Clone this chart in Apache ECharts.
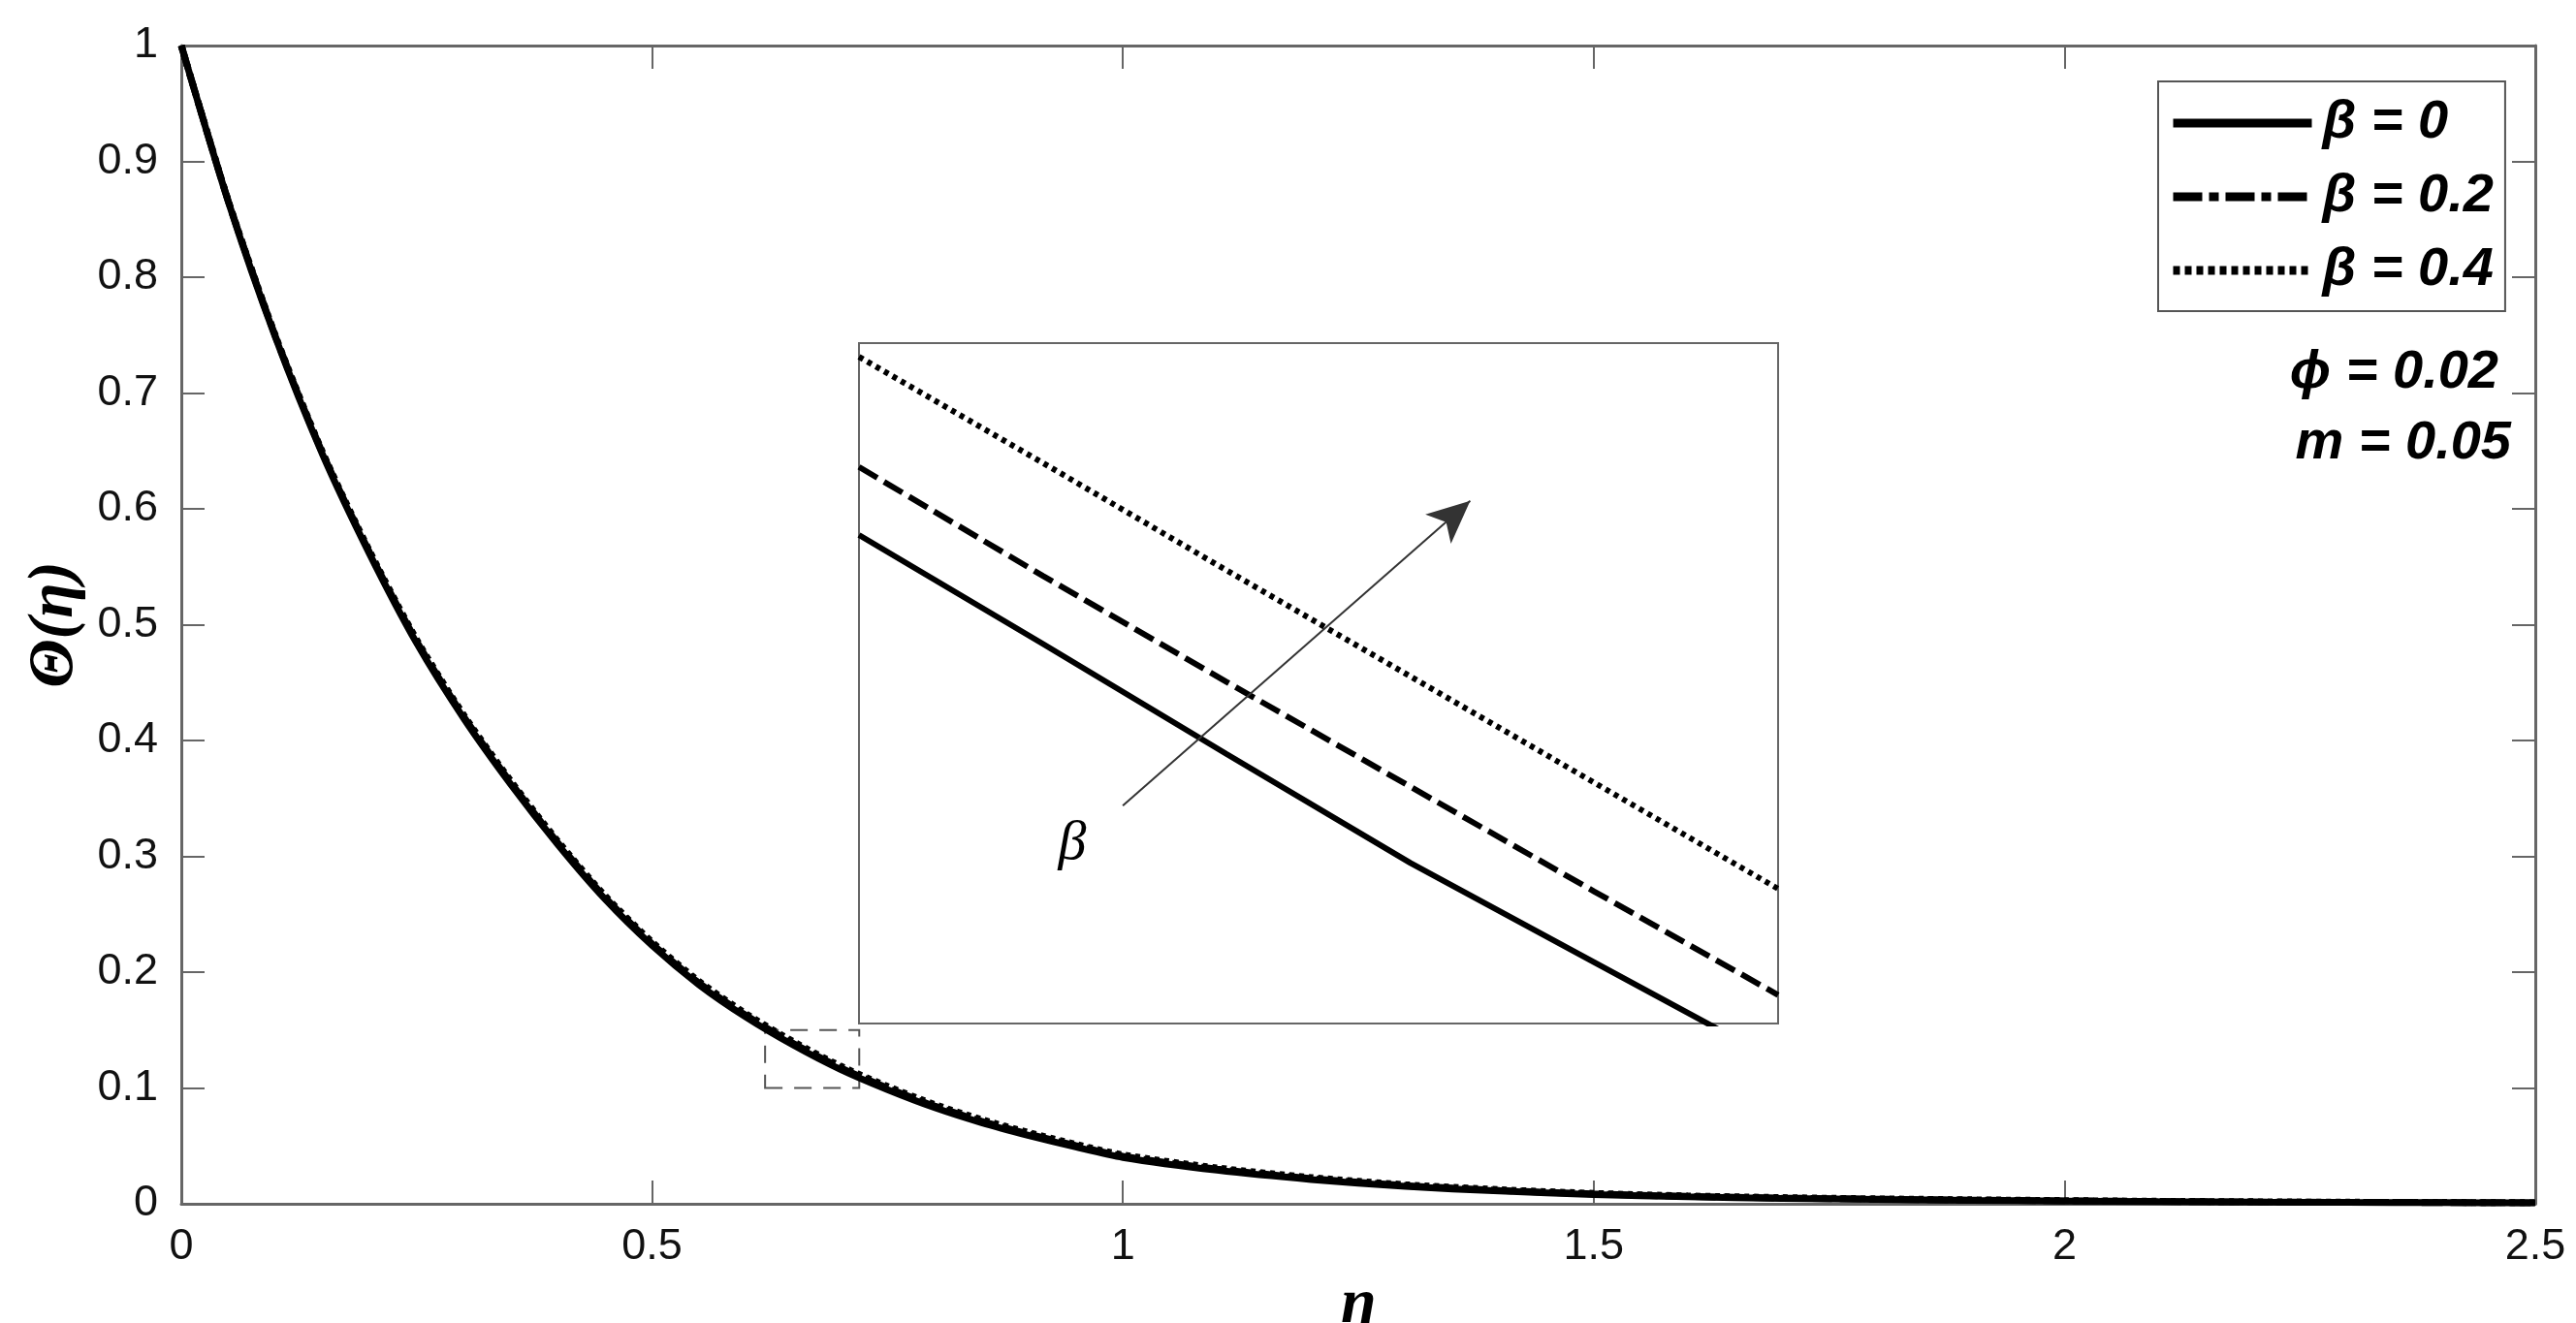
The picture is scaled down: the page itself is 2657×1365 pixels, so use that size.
<!DOCTYPE html>
<html>
<head>
<meta charset="utf-8">
<script src="https://cdn.jsdelivr.net/npm/echarts@6/dist/echarts.min.js"></script>
<style>
html, body { margin: 0; padding: 0; background: #fff; }
#container { width: 2657px; height: 1365px; }
</style>
</head>
<body>
<div id="container"></div>
<script>
// eta grid of the main plot
let eta = [0, 0.05, 0.1, 0.15, 0.2, 0.25, 0.3, 0.35, 0.4, 0.45, 0.5, 0.55, 0.6, 0.65, 0.7, 0.75, 0.8, 0.85, 0.9, 0.95, 1.0,
    1.1, 1.2, 1.3, 1.4, 1.5, 1.6, 1.7, 1.8, 1.9, 2.0, 2.1, 2.2, 2.3, 2.4, 2.5]
// theta(eta) for beta = 0, 0.2, 0.4
let theta0 = [1, 0.865, 0.748, 0.647, 0.561, 0.484, 0.419, 0.362, 0.310, 0.263, 0.223, 0.189, 0.161, 0.137, 0.116, 0.0985, 0.083, 0.070, 0.059, 0.049, 0.040,
    0.029, 0.021, 0.015, 0.011, 0.008, 0.006, 0.0047, 0.0037, 0.003, 0.0024, 0.0019, 0.0015, 0.0012, 0.001, 0.0008]
let theta2 = [1, 0.8654, 0.7488, 0.648, 0.5622, 0.4855, 0.4205, 0.3635, 0.3115, 0.2645, 0.2245, 0.1905, 0.1625, 0.1385, 0.1175, 0.0999, 0.0844, 0.0713, 0.0602, 0.0502, 0.0411,
    0.030, 0.0218, 0.0157, 0.0116, 0.0085, 0.0064, 0.005, 0.004, 0.0032, 0.0026, 0.002, 0.0016, 0.0013, 0.0011, 0.0009]
let theta4 = [1, 0.8658, 0.7495, 0.649, 0.5635, 0.487, 0.422, 0.365, 0.313, 0.266, 0.226, 0.192, 0.164, 0.140, 0.119, 0.1014, 0.0858, 0.0727, 0.0615, 0.0514, 0.0422,
    0.031, 0.0227, 0.0165, 0.0122, 0.009, 0.0068, 0.0054, 0.0043, 0.0035, 0.0028, 0.0022, 0.0018, 0.0014, 0.0012, 0.001]

// zoomed inset (eta 0.62 - 0.72, theta 0.10 - 0.15)
let insetRange = { x: [0.62, 0.72], y: [0.10, 0.15] }
let insetEta = [0.62, 0.64, 0.66, 0.68, 0.70, 0.72]
let inset0 = [0.1359, 0.1279, 0.1198, 0.1118, 0.1045, 0.0972]
let inset2 = [0.1409, 0.1329, 0.1251, 0.1174, 0.1097, 0.1021]
let inset4 = [0.1490, 0.1412, 0.1333, 0.1255, 0.1177, 0.1099]

let names = ['β = 0', 'β = 0.2', 'β = 0.4']
let dashes = ['solid', [22, 8], [5, 5]]

const pairs = (xs, ys) => xs.map((x, i) => [x, ys[i]])

let gray = '#666'
let sans = '"Liberation Sans", Arial, sans-serif'
let serif = '"Liberation Serif", "Times New Roman", serif'

let tickLabel = {
    fontFamily: sans,
    fontSize: 45,
    color: '#111'
}

function frameAxis(extra) {
    return Object.assign({
        type: 'value',
        axisLine: { show: true, onZero: false, lineStyle: { color: gray, width: 3 } },
        axisTick: { show: true, inside: true, length: 24, lineStyle: { color: gray, width: 2 } },
        axisLabel: { show: false },
        splitLine: { show: false }
    }, extra)
}

let mainSeries = [theta0, theta2, theta4].map((ys, i) => ({
    name: names[i],
    type: 'line',
    xAxisIndex: 0,
    yAxisIndex: 0,
    data: pairs(eta, ys),
    symbol: 'none',
    smooth: 0.25,
    lineStyle: { color: '#000', width: 7, type: dashes[i] },
    z: 3 + i
}))

// dashed box showing the zoomed region
mainSeries[0].markArea = {
    silent: true,
    itemStyle: { color: 'transparent', borderColor: '#555', borderWidth: 2, borderType: [18, 12] },
    data: [[{ coord: [insetRange.x[0], insetRange.y[0]] }, { coord: [insetRange.x[1], insetRange.y[1]] }]]
}

let insetSeries = [inset0, inset2, inset4].map((ys, i) => ({
    name: names[i],
    type: 'line',
    xAxisIndex: 2,
    yAxisIndex: 2,
    data: pairs(insetEta, ys),
    symbol: 'none',
    clip: true,
    lineStyle: { color: '#000', width: 6, type: dashes[i] },
    z: 3 + i
}))

// arrow for increasing beta
insetSeries[0].markLine = {
    silent: true,
    symbol: ['none', 'arrow'],
    symbolSize: [30, 44],
    label: { show: false },
    lineStyle: { color: '#333', width: 2, type: 'solid' },
    data: [[{ coord: [0.6487, 0.116] }, { coord: [0.6865, 0.1384] }]]
}

let options = {
    animation: false,
    backgroundColor: '#fff',
    grid: [
        { left: 187, top: 47, right: 42, bottom: 123, outerBoundsMode: 'none' },
        { left: 886, top: 354, width: 948, height: 702, show: true, borderColor: gray, borderWidth: 2, backgroundColor: '#fff', outerBoundsMode: 'none' }
    ],
    legend: {
        orient: 'vertical',
        left: 2226,
        top: 84,
        padding: [12, 12, 11, 11],
        itemGap: 14,
        itemWidth: 143,
        itemHeight: 14,
        borderColor: '#555',
        borderWidth: 2,
        backgroundColor: '#fff',
        selectedMode: false,
        itemStyle: { opacity: 0 },
        lineStyle: { width: 9 },
        textStyle: {
            fontFamily: sans,
            fontSize: 56,
            fontWeight: 'bold',
            fontStyle: 'italic',
            color: '#000',
            lineHeight: 62,
            padding: [0, 0, 0, 6]
        },
        data: [
            { name: names[0] },
            { name: names[1], lineStyle: { type: [30, 7, 10, 7] } },
            { name: names[2], lineStyle: { type: [7, 5] } }
        ]
    },
    xAxis: [
        frameAxis({
            gridIndex: 0, position: 'bottom', min: 0, max: 2.5, interval: 0.5,
            axisLabel: Object.assign({ show: true, margin: 22 }, tickLabel),
            name: 'η',
            nameLocation: 'middle',
            nameGap: 27,
            nameTextStyle: { fontFamily: serif, fontSize: 66, fontWeight: 'bold', fontStyle: 'italic', color: '#000' }
        }),
        frameAxis({ gridIndex: 0, position: 'top', min: 0, max: 2.5, interval: 0.5 }),
        { type: 'value', gridIndex: 1, min: insetRange.x[0], max: insetRange.x[1], show: false },
    ],
    yAxis: [
        frameAxis({
            gridIndex: 0, position: 'left', min: 0, max: 1, interval: 0.1,
            axisLabel: Object.assign({ show: true, margin: 24 }, tickLabel),
            name: 'Θ(η)',
            nameLocation: 'middle',
            nameGap: 92,
            nameTextStyle: { fontFamily: serif, fontSize: 66, fontWeight: 'bold', fontStyle: 'italic', color: '#000' }
        }),
        frameAxis({ gridIndex: 0, position: 'right', min: 0, max: 1, interval: 0.1 }),
        { type: 'value', gridIndex: 1, min: insetRange.y[0], max: insetRange.y[1], show: false },
    ],
    graphic: {
        elements: [
            {
                type: 'text', x: 2577, y: 385, z: 10,
                style: { text: 'ϕ = 0.02', font: 'italic bold 56px "Liberation Sans"', fill: '#000', align: 'right', verticalAlign: 'middle' }
            },
            {
                type: 'text', x: 2590, y: 458, z: 10,
                style: { text: 'm = 0.05', font: 'italic bold 56px "Liberation Sans"', fill: '#000', align: 'right', verticalAlign: 'middle' }
            },
            {
                type: 'text', x: 1106, y: 871, z: 10,
                style: { text: 'β', font: 'italic 58px "Liberation Serif"', fill: '#000', align: 'center', verticalAlign: 'middle' }
            }
        ]
    },
    series: mainSeries.concat(insetSeries)
}

let mychart = echarts.init(document.getElementById('container'))
mychart.setOption(options)

window.addEventListener('resize', () => { mychart.resize() })
</script>
</body>
</html>
